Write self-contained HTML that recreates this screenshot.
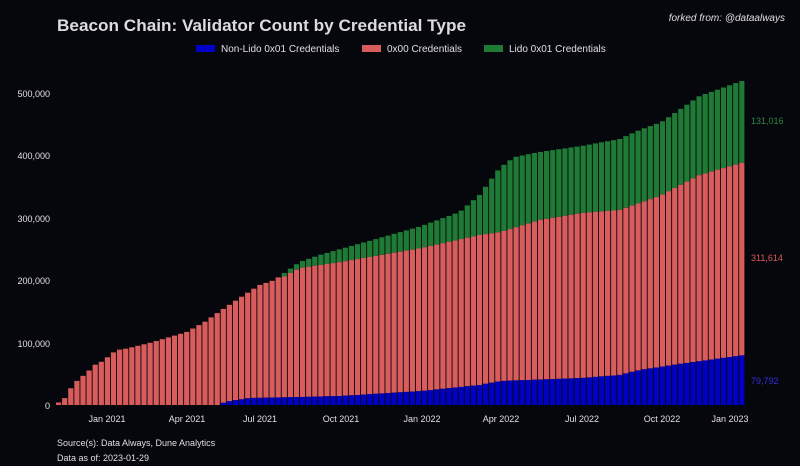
<!DOCTYPE html>
<html><head><meta charset="utf-8"><style>
html,body{margin:0;padding:0;background:#06060d;}
svg{display:block;font-family:"Liberation Sans",sans-serif;}
</style></head><body>
<svg id="s" width="800" height="466" viewBox="0 0 800 466" xmlns="http://www.w3.org/2000/svg">
<rect width="800" height="466" fill="#06060d"/>
<text x="57" y="31" fill="#dcdcdc" font-size="17" font-weight="bold" textLength="409" lengthAdjust="spacingAndGlyphs">Beacon Chain: Validator Count by Credential Type</text>
<text x="785" y="21" fill="#e0e0e0" font-size="10" font-style="italic" text-anchor="end">forked from: @dataalways</text>
<rect x="196" y="45" width="19" height="7" fill="#0000c8"/>
<text x="221" y="52" fill="#e0e0e0" font-size="10">Non-Lido 0x01 Credentials</text>
<rect x="362" y="45" width="19" height="7" fill="#d85c5c"/>
<text x="387" y="52" fill="#e0e0e0" font-size="10">0x00 Credentials</text>
<rect x="484" y="45" width="19" height="7" fill="#1f7a35"/>
<text x="509" y="52" fill="#e0e0e0" font-size="10">Lido 0x01 Credentials</text>
<g fill="#e0e0e0" font-size="9" text-anchor="end">
<text x="50" y="97">500,000</text><text x="50" y="159">400,000</text><text x="50" y="222">300,000</text>
<text x="50" y="284">200,000</text><text x="50" y="347">100,000</text><text x="50" y="409">0</text>
</g>
<g fill="#e0e0e0" font-size="9" text-anchor="middle">
<text x="107" y="422">Jan 2021</text><text x="187" y="422">Apr 2021</text><text x="260" y="422">Jul 2021</text>
<text x="341" y="422">Oct 2021</text><text x="422" y="422">Jan 2022</text><text x="501" y="422">Apr 2022</text>
<text x="582" y="422">Jul 2022</text><text x="662" y="422">Oct 2022</text><text x="730" y="422">Jan 2023</text>
</g>
<g id="bars"></g>
<text x="751" y="124" fill="#2f8a3f" font-size="9">131,016</text>
<text x="751" y="261" fill="#d85c5c" font-size="9">311,614</text>
<text x="751" y="384" fill="#3030e0" font-size="9">79,792</text>
<text x="57" y="446" fill="#e0e0e0" font-size="9">Source(s): Data Always, Dune Analytics</text>
<text x="57" y="461" fill="#e0e0e0" font-size="9">Data as of: 2023-01-29</text>
</svg>
<script>
function interp(p,x){if(x<=p[0][0])return p[0][1];for(var i=1;i<p.length;i++){if(x<=p[i][0]){var a=p[i-1],b=p[i];return a[1]+(b[1]-a[1])*(x-a[0])/(b[0]-a[0]);}}return p[p.length-1][1];}
var T=[[58,403],[64,400],[70,390],[76,382],[82,377],[88,372],[95,365],[100,363],[107,358],[117,350],[125,349],[150,343],[187,332],[205,322],[225,308],[240,298],[260,285],[275,280],[300,262],[320,255],[341,249],[380,238],[422,226],[460,212],[480,195],[500,168],[515,157],[540,152],[582,146],[620,139],[640,130],[662,122],[700,96],[745,80]];
var R=[[280,279],[300,268],[341,262],[422,248],[480,235],[501,232],[540,220],[582,213],[620,210],[660,196],[700,175],[745,162]];
var B=[[58,405],[220,405],[225,402],[250,398],[300,397],[341,396],[422,391],[480,385],[501,381],[582,378],[620,375],[640,370],[680,364],[745,355]];
var g=document.getElementById('bars'),h='',step=6.1;
for(var x=56;x<740;x+=step){var c=x+step/2;var t=interp(T,c);var r=c<282?t:Math.max(interp(R,c),t);var b=Math.max(interp(B,c),r);
var w=step-0.9;
h+='<rect x="'+x.toFixed(2)+'" y="'+t.toFixed(1)+'" width="'+w.toFixed(2)+'" height="'+(r-t).toFixed(1)+'" fill="#1f7a35"/>';
h+='<rect x="'+x.toFixed(2)+'" y="'+r.toFixed(1)+'" width="'+w.toFixed(2)+'" height="'+(b-r).toFixed(1)+'" fill="#d85c5c"/>';
h+='<rect x="'+x.toFixed(2)+'" y="'+b.toFixed(1)+'" width="'+w.toFixed(2)+'" height="'+(405-b).toFixed(1)+'" fill="#0000c0"/>';}
g.innerHTML=h;
</script>
</body></html>
